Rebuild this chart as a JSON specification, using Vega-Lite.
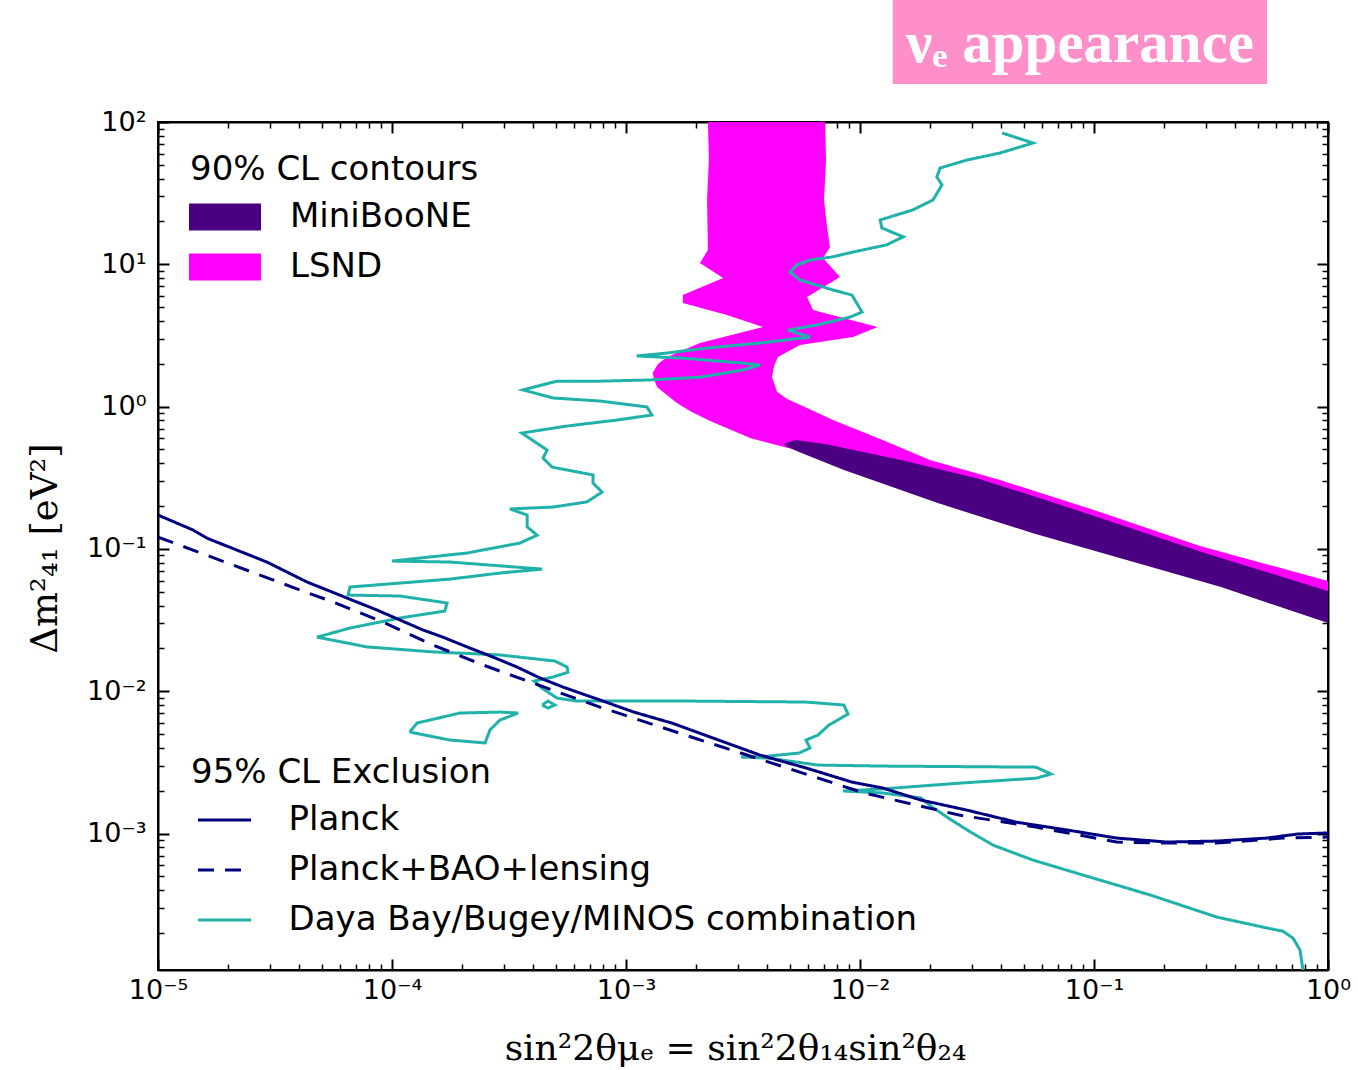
{
  "$schema": "https://vega.github.io/schema/vega-lite/v6.json",
  "width": 1170,
  "height": 848,
  "autosize": {"type": "none"},
  "padding": {"left": 158, "top": 122, "right": 30, "bottom": 100},
  "background": "white",
  "config": {
    "view": {"stroke": "black", "strokeWidth": 2},
    "font": "DejaVu Sans",
    "axis": {"grid": false, "tickColor": "black", "domainColor": "black", "domainWidth": 2, "labelColor": "black", "labelFont": "DejaVu Sans", "labelFontSize": 27, "labelFlush": false, "labelOverlap": false, "zindex": 1},
    "legend": {"titleFont": "DejaVu Sans", "titleFontSize": 34, "titleFontWeight": "normal", "titleColor": "black", "titleLimit": 1000, "labelFont": "DejaVu Sans", "labelFontSize": 34, "labelColor": "black", "labelLimit": 1000, "padding": 0, "rowPadding": 16, "titlePadding": 13}
  },
  "datasets": {
    "frame": [{"s2t": 0.01, "dm2": 1}],
    "regions": [
      {"contour": "LSND", "i": 1, "s2t": 0.00224, "dm2": 100},
      {"contour": "LSND", "i": 2, "s2t": 0.00709, "dm2": 100},
      {"contour": "LSND", "i": 3, "s2t": 0.00716, "dm2": 54.1},
      {"contour": "LSND", "i": 4, "s2t": 0.00702, "dm2": 28.3},
      {"contour": "LSND", "i": 5, "s2t": 0.00723, "dm2": 18.3},
      {"contour": "LSND", "i": 6, "s2t": 0.00744, "dm2": 13.2},
      {"contour": "LSND", "i": 7, "s2t": 0.00695, "dm2": 11.07},
      {"contour": "LSND", "i": 8, "s2t": 0.00821, "dm2": 8.14},
      {"contour": "LSND", "i": 9, "s2t": 0.00594, "dm2": 5.89},
      {"contour": "LSND", "i": 10, "s2t": 0.0063, "dm2": 4.77},
      {"contour": "LSND", "i": 11, "s2t": 0.0119, "dm2": 3.63},
      {"contour": "LSND", "i": 12, "s2t": 0.00934, "dm2": 3.08},
      {"contour": "LSND", "i": 13, "s2t": 0.00554, "dm2": 2.71},
      {"contour": "LSND", "i": 14, "s2t": 0.00446, "dm2": 2.23},
      {"contour": "LSND", "i": 14.5, "s2t": 0.00429, "dm2": 1.93},
      {"contour": "LSND", "i": 15, "s2t": 0.00421, "dm2": 1.61},
      {"contour": "LSND", "i": 16, "s2t": 0.00442, "dm2": 1.27},
      {"contour": "LSND", "i": 16.5, "s2t": 0.00488, "dm2": 1.13},
      {"contour": "LSND", "i": 17, "s2t": 0.00554, "dm2": 1.03},
      {"contour": "LSND", "i": 18, "s2t": 0.00767, "dm2": 0.805},
      {"contour": "LSND", "i": 19, "s2t": 0.0125, "dm2": 0.583},
      {"contour": "LSND", "i": 20, "s2t": 0.0199, "dm2": 0.421},
      {"contour": "LSND", "i": 21, "s2t": 0.0397, "dm2": 0.305},
      {"contour": "LSND", "i": 22, "s2t": 0.106, "dm2": 0.182},
      {"contour": "LSND", "i": 23, "s2t": 0.284, "dm2": 0.105},
      {"contour": "LSND", "i": 24, "s2t": 1, "dm2": 0.0595},
      {"contour": "LSND", "i": 25, "s2t": 1, "dm2": 0.0322},
      {"contour": "LSND", "i": 26, "s2t": 0.284, "dm2": 0.0625},
      {"contour": "LSND", "i": 27, "s2t": 0.106, "dm2": 0.0998},
      {"contour": "LSND", "i": 28, "s2t": 0.0397, "dm2": 0.162},
      {"contour": "LSND", "i": 29, "s2t": 0.0148, "dm2": 0.272},
      {"contour": "LSND", "i": 30, "s2t": 0.00854, "dm2": 0.376},
      {"contour": "LSND", "i": 31, "s2t": 0.00554, "dm2": 0.488},
      {"contour": "LSND", "i": 32, "s2t": 0.00339, "dm2": 0.601},
      {"contour": "LSND", "i": 33, "s2t": 0.00229, "dm2": 0.792},
      {"contour": "LSND", "i": 33.5, "s2t": 0.00191, "dm2": 0.916},
      {"contour": "LSND", "i": 34, "s2t": 0.00165, "dm2": 1.06},
      {"contour": "LSND", "i": 35, "s2t": 0.00136, "dm2": 1.37},
      {"contour": "LSND", "i": 35.5, "s2t": 0.00132, "dm2": 1.54},
      {"contour": "LSND", "i": 36, "s2t": 0.0013, "dm2": 1.72},
      {"contour": "LSND", "i": 36.5, "s2t": 0.00137, "dm2": 1.99},
      {"contour": "LSND", "i": 37, "s2t": 0.0015, "dm2": 2.23},
      {"contour": "LSND", "i": 38, "s2t": 0.00207, "dm2": 2.8},
      {"contour": "LSND", "i": 39, "s2t": 0.00385, "dm2": 3.63},
      {"contour": "LSND", "i": 40, "s2t": 0.0027, "dm2": 4.4},
      {"contour": "LSND", "i": 41, "s2t": 0.00175, "dm2": 5.35},
      {"contour": "LSND", "i": 42, "s2t": 0.00175, "dm2": 6.08},
      {"contour": "LSND", "i": 43, "s2t": 0.0026, "dm2": 8.01},
      {"contour": "LSND", "i": 44, "s2t": 0.00207, "dm2": 10.2},
      {"contour": "LSND", "i": 45, "s2t": 0.00224, "dm2": 12.6},
      {"contour": "LSND", "i": 46, "s2t": 0.00222, "dm2": 28.3},
      {"contour": "LSND", "i": 47, "s2t": 0.00226, "dm2": 54.1},
      {"contour": "MiniBooNE", "i": 1, "s2t": 0.00473, "dm2": 0.546},
      {"contour": "MiniBooNE", "i": 2, "s2t": 0.00528, "dm2": 0.583},
      {"contour": "MiniBooNE", "i": 3, "s2t": 0.00709, "dm2": 0.546},
      {"contour": "MiniBooNE", "i": 4, "s2t": 0.015, "dm2": 0.421},
      {"contour": "MiniBooNE", "i": 5, "s2t": 0.0313, "dm2": 0.315},
      {"contour": "MiniBooNE", "i": 6, "s2t": 0.0661, "dm2": 0.214},
      {"contour": "MiniBooNE", "i": 7, "s2t": 0.138, "dm2": 0.143},
      {"contour": "MiniBooNE", "i": 8, "s2t": 0.289, "dm2": 0.0951},
      {"contour": "MiniBooNE", "i": 9, "s2t": 1, "dm2": 0.0506},
      {"contour": "MiniBooNE", "i": 10, "s2t": 1, "dm2": 0.0302},
      {"contour": "MiniBooNE", "i": 11, "s2t": 0.349, "dm2": 0.054},
      {"contour": "MiniBooNE", "i": 12, "s2t": 0.138, "dm2": 0.0836},
      {"contour": "MiniBooNE", "i": 13, "s2t": 0.0549, "dm2": 0.129},
      {"contour": "MiniBooNE", "i": 14, "s2t": 0.0215, "dm2": 0.21},
      {"contour": "MiniBooNE", "i": 15, "s2t": 0.00854, "dm2": 0.359},
      {"contour": "MiniBooNE", "i": 16, "s2t": 0.00549, "dm2": 0.48},
      {"contour": "MiniBooNE", "i": 17, "s2t": 0.00492, "dm2": 0.52}
    ],
    "curves": [
      {"series": "Daya Bay/Bugey/MINOS combination", "part": "a", "i": 1, "s2t": 0.0405, "dm2": 83.7},
      {"series": "Daya Bay/Bugey/MINOS combination", "part": "a", "i": 2, "s2t": 0.0549, "dm2": 71.2},
      {"series": "Daya Bay/Bugey/MINOS combination", "part": "a", "i": 3, "s2t": 0.0397, "dm2": 60.6},
      {"series": "Daya Bay/Bugey/MINOS combination", "part": "a", "i": 4, "s2t": 0.0287, "dm2": 54.1},
      {"series": "Daya Bay/Bugey/MINOS combination", "part": "a", "i": 5, "s2t": 0.022, "dm2": 47.5},
      {"series": "Daya Bay/Bugey/MINOS combination", "part": "a", "i": 6, "s2t": 0.0213, "dm2": 41.1},
      {"series": "Daya Bay/Bugey/MINOS combination", "part": "a", "i": 7, "s2t": 0.0224, "dm2": 36.1},
      {"series": "Daya Bay/Bugey/MINOS combination", "part": "a", "i": 8, "s2t": 0.0205, "dm2": 28.3},
      {"series": "Daya Bay/Bugey/MINOS combination", "part": "a", "i": 9, "s2t": 0.0168, "dm2": 24.1},
      {"series": "Daya Bay/Bugey/MINOS combination", "part": "a", "i": 10, "s2t": 0.0122, "dm2": 20.5},
      {"series": "Daya Bay/Bugey/MINOS combination", "part": "a", "i": 11, "s2t": 0.0124, "dm2": 18.0},
      {"series": "Daya Bay/Bugey/MINOS combination", "part": "a", "i": 12, "s2t": 0.0153, "dm2": 15.6},
      {"series": "Daya Bay/Bugey/MINOS combination", "part": "a", "i": 13, "s2t": 0.013, "dm2": 13.7},
      {"series": "Daya Bay/Bugey/MINOS combination", "part": "a", "i": 14, "s2t": 0.00934, "dm2": 12.2},
      {"series": "Daya Bay/Bugey/MINOS combination", "part": "a", "i": 15, "s2t": 0.00767, "dm2": 11.3},
      {"series": "Daya Bay/Bugey/MINOS combination", "part": "a", "i": 16, "s2t": 0.00611, "dm2": 10.7},
      {"series": "Daya Bay/Bugey/MINOS combination", "part": "a", "i": 17, "s2t": 0.00538, "dm2": 9.89},
      {"series": "Daya Bay/Bugey/MINOS combination", "part": "a", "i": 18, "s2t": 0.00502, "dm2": 8.83},
      {"series": "Daya Bay/Bugey/MINOS combination", "part": "a", "i": 19, "s2t": 0.00554, "dm2": 7.76},
      {"series": "Daya Bay/Bugey/MINOS combination", "part": "a", "i": 20, "s2t": 0.00767, "dm2": 6.6},
      {"series": "Daya Bay/Bugey/MINOS combination", "part": "a", "i": 21, "s2t": 0.00924, "dm2": 6.08},
      {"series": "Daya Bay/Bugey/MINOS combination", "part": "a", "i": 22, "s2t": 0.0102, "dm2": 4.62},
      {"series": "Daya Bay/Bugey/MINOS combination", "part": "a", "i": 23, "s2t": 0.00907, "dm2": 4.26},
      {"series": "Daya Bay/Bugey/MINOS combination", "part": "a", "i": 24, "s2t": 0.00655, "dm2": 3.75},
      {"series": "Daya Bay/Bugey/MINOS combination", "part": "a", "i": 25, "s2t": 0.00492, "dm2": 3.45},
      {"series": "Daya Bay/Bugey/MINOS combination", "part": "a", "i": 26, "s2t": 0.00611, "dm2": 3.08},
      {"series": "Daya Bay/Bugey/MINOS combination", "part": "a", "i": 27, "s2t": 0.00374, "dm2": 2.8},
      {"series": "Daya Bay/Bugey/MINOS combination", "part": "a", "i": 28, "s2t": 0.00222, "dm2": 2.58},
      {"series": "Daya Bay/Bugey/MINOS combination", "part": "a", "i": 29, "s2t": 0.0015, "dm2": 2.38},
      {"series": "Daya Bay/Bugey/MINOS combination", "part": "a", "i": 30, "s2t": 0.00111, "dm2": 2.27},
      {"series": "Daya Bay/Bugey/MINOS combination", "part": "a", "i": 31, "s2t": 0.00175, "dm2": 2.19},
      {"series": "Daya Bay/Bugey/MINOS combination", "part": "a", "i": 32, "s2t": 0.00307, "dm2": 2.03},
      {"series": "Daya Bay/Bugey/MINOS combination", "part": "a", "i": 33, "s2t": 0.00374, "dm2": 1.96},
      {"series": "Daya Bay/Bugey/MINOS combination", "part": "a", "i": 34, "s2t": 0.00316, "dm2": 1.81},
      {"series": "Daya Bay/Bugey/MINOS combination", "part": "a", "i": 35, "s2t": 0.00207, "dm2": 1.61},
      {"series": "Daya Bay/Bugey/MINOS combination", "part": "a", "i": 36, "s2t": 0.00127, "dm2": 1.54},
      {"series": "Daya Bay/Bugey/MINOS combination", "part": "a", "i": 37, "s2t": 0.000774, "dm2": 1.51},
      {"series": "Daya Bay/Bugey/MINOS combination", "part": "a", "i": 38, "s2t": 0.000507, "dm2": 1.51},
      {"series": "Daya Bay/Bugey/MINOS combination", "part": "a", "i": 39, "s2t": 0.000363, "dm2": 1.31},
      {"series": "Daya Bay/Bugey/MINOS combination", "part": "a", "i": 40, "s2t": 0.000488, "dm2": 1.15},
      {"series": "Daya Bay/Bugey/MINOS combination", "part": "a", "i": 41, "s2t": 0.000774, "dm2": 1.095},
      {"series": "Daya Bay/Bugey/MINOS combination", "part": "a", "i": 42, "s2t": 0.00123, "dm2": 0.994},
      {"series": "Daya Bay/Bugey/MINOS combination", "part": "a", "i": 43, "s2t": 0.00129, "dm2": 0.873},
      {"series": "Daya Bay/Bugey/MINOS combination", "part": "a", "i": 44, "s2t": 0.000915, "dm2": 0.805},
      {"series": "Daya Bay/Bugey/MINOS combination", "part": "a", "i": 45, "s2t": 0.00056, "dm2": 0.731},
      {"series": "Daya Bay/Bugey/MINOS combination", "part": "a", "i": 46, "s2t": 0.000359, "dm2": 0.652},
      {"series": "Daya Bay/Bugey/MINOS combination", "part": "a", "i": 47, "s2t": 0.00046, "dm2": 0.495},
      {"series": "Daya Bay/Bugey/MINOS combination", "part": "a", "i": 48, "s2t": 0.000442, "dm2": 0.435},
      {"series": "Daya Bay/Bugey/MINOS combination", "part": "a", "i": 49, "s2t": 0.000483, "dm2": 0.376},
      {"series": "Daya Bay/Bugey/MINOS combination", "part": "a", "i": 50, "s2t": 0.000723, "dm2": 0.331},
      {"series": "Daya Bay/Bugey/MINOS combination", "part": "a", "i": 51, "s2t": 0.000723, "dm2": 0.29},
      {"series": "Daya Bay/Bugey/MINOS combination", "part": "a", "i": 52, "s2t": 0.00079, "dm2": 0.251},
      {"series": "Daya Bay/Bugey/MINOS combination", "part": "a", "i": 53, "s2t": 0.000681, "dm2": 0.214},
      {"series": "Daya Bay/Bugey/MINOS combination", "part": "a", "i": 54, "s2t": 0.000488, "dm2": 0.197},
      {"series": "Daya Bay/Bugey/MINOS combination", "part": "a", "i": 55, "s2t": 0.000319, "dm2": 0.191},
      {"series": "Daya Bay/Bugey/MINOS combination", "part": "a", "i": 56, "s2t": 0.000378, "dm2": 0.173},
      {"series": "Daya Bay/Bugey/MINOS combination", "part": "a", "i": 57, "s2t": 0.000378, "dm2": 0.143},
      {"series": "Daya Bay/Bugey/MINOS combination", "part": "a", "i": 58, "s2t": 0.000417, "dm2": 0.125},
      {"series": "Daya Bay/Bugey/MINOS combination", "part": "a", "i": 59, "s2t": 0.000352, "dm2": 0.11},
      {"series": "Daya Bay/Bugey/MINOS combination", "part": "a", "i": 60, "s2t": 0.000209, "dm2": 0.0936},
      {"series": "Daya Bay/Bugey/MINOS combination", "part": "a", "i": 61, "s2t": 0.0001, "dm2": 0.0822},
      {"series": "Daya Bay/Bugey/MINOS combination", "part": "a", "i": 62, "s2t": 0.000177, "dm2": 0.0809},
      {"series": "Daya Bay/Bugey/MINOS combination", "part": "a", "i": 63, "s2t": 0.000438, "dm2": 0.0722},
      {"series": "Daya Bay/Bugey/MINOS combination", "part": "a", "i": 64, "s2t": 0.000289, "dm2": 0.0677},
      {"series": "Daya Bay/Bugey/MINOS combination", "part": "a", "i": 65, "s2t": 0.000177, "dm2": 0.0614},
      {"series": "Daya Bay/Bugey/MINOS combination", "part": "a", "i": 66, "s2t": 0.0000661, "dm2": 0.054},
      {"series": "Daya Bay/Bugey/MINOS combination", "part": "a", "i": 67, "s2t": 0.0000649, "dm2": 0.0474},
      {"series": "Daya Bay/Bugey/MINOS combination", "part": "a", "i": 68, "s2t": 0.000108, "dm2": 0.0467},
      {"series": "Daya Bay/Bugey/MINOS combination", "part": "a", "i": 69, "s2t": 0.000172, "dm2": 0.0417},
      {"series": "Daya Bay/Bugey/MINOS combination", "part": "a", "i": 70, "s2t": 0.000168, "dm2": 0.0366},
      {"series": "Daya Bay/Bugey/MINOS combination", "part": "a", "i": 71, "s2t": 0.000108, "dm2": 0.0327},
      {"series": "Daya Bay/Bugey/MINOS combination", "part": "a", "i": 72, "s2t": 0.0000661, "dm2": 0.0278},
      {"series": "Daya Bay/Bugey/MINOS combination", "part": "a", "i": 73, "s2t": 0.0000478, "dm2": 0.024},
      {"series": "Daya Bay/Bugey/MINOS combination", "part": "a", "i": 74, "s2t": 0.0000782, "dm2": 0.0205},
      {"series": "Daya Bay/Bugey/MINOS combination", "part": "a", "i": 75, "s2t": 0.00015, "dm2": 0.0189},
      {"series": "Daya Bay/Bugey/MINOS combination", "part": "a", "i": 76, "s2t": 0.000289, "dm2": 0.018},
      {"series": "Daya Bay/Bugey/MINOS combination", "part": "a", "i": 77, "s2t": 0.000497, "dm2": 0.0163},
      {"series": "Daya Bay/Bugey/MINOS combination", "part": "a", "i": 78, "s2t": 0.00056, "dm2": 0.0148},
      {"series": "Daya Bay/Bugey/MINOS combination", "part": "a", "i": 79, "s2t": 0.000565, "dm2": 0.0136},
      {"series": "Daya Bay/Bugey/MINOS combination", "part": "a", "i": 80, "s2t": 0.000488, "dm2": 0.0126},
      {"series": "Daya Bay/Bugey/MINOS combination", "part": "a", "i": 81, "s2t": 0.000405, "dm2": 0.0118},
      {"series": "Daya Bay/Bugey/MINOS combination", "part": "a", "i": 82, "s2t": 0.000438, "dm2": 0.0105},
      {"series": "Daya Bay/Bugey/MINOS combination", "part": "a", "i": 83, "s2t": 0.000507, "dm2": 0.00896},
      {"series": "Daya Bay/Bugey/MINOS combination", "part": "a", "i": 84, "s2t": 0.000617, "dm2": 0.00853},
      {"series": "Daya Bay/Bugey/MINOS combination", "part": "a", "i": 85, "s2t": 0.0019, "dm2": 0.00853},
      {"series": "Daya Bay/Bugey/MINOS combination", "part": "a", "i": 86, "s2t": 0.00588, "dm2": 0.0084},
      {"series": "Daya Bay/Bugey/MINOS combination", "part": "a", "i": 87, "s2t": 0.00854, "dm2": 0.008},
      {"series": "Daya Bay/Bugey/MINOS combination", "part": "a", "i": 88, "s2t": 0.00889, "dm2": 0.00691},
      {"series": "Daya Bay/Bugey/MINOS combination", "part": "a", "i": 89, "s2t": 0.00737, "dm2": 0.00579},
      {"series": "Daya Bay/Bugey/MINOS combination", "part": "a", "i": 90, "s2t": 0.00661, "dm2": 0.00492},
      {"series": "Daya Bay/Bugey/MINOS combination", "part": "a", "i": 91, "s2t": 0.00588, "dm2": 0.00454},
      {"series": "Daya Bay/Bugey/MINOS combination", "part": "a", "i": 92, "s2t": 0.00611, "dm2": 0.00399},
      {"series": "Daya Bay/Bugey/MINOS combination", "part": "a", "i": 93, "s2t": 0.00549, "dm2": 0.00368},
      {"series": "Daya Bay/Bugey/MINOS combination", "part": "a", "i": 94, "s2t": 0.00405, "dm2": 0.0035},
      {"series": "Daya Bay/Bugey/MINOS combination", "part": "a", "i": 95, "s2t": 0.0031, "dm2": 0.00345},
      {"series": "Daya Bay/Bugey/MINOS combination", "part": "a", "i": 96, "s2t": 0.00405, "dm2": 0.00339},
      {"series": "Daya Bay/Bugey/MINOS combination", "part": "a", "i": 97, "s2t": 0.00661, "dm2": 0.00303},
      {"series": "Daya Bay/Bugey/MINOS combination", "part": "a", "i": 98, "s2t": 0.0125, "dm2": 0.00298},
      {"series": "Daya Bay/Bugey/MINOS combination", "part": "a", "i": 99, "s2t": 0.0565, "dm2": 0.00293},
      {"series": "Daya Bay/Bugey/MINOS combination", "part": "a", "i": 100, "s2t": 0.0655, "dm2": 0.00262},
      {"series": "Daya Bay/Bugey/MINOS combination", "part": "a", "i": 101, "s2t": 0.0565, "dm2": 0.00245},
      {"series": "Daya Bay/Bugey/MINOS combination", "part": "a", "i": 102, "s2t": 0.0265, "dm2": 0.00226},
      {"series": "Daya Bay/Bugey/MINOS combination", "part": "a", "i": 103, "s2t": 0.0125, "dm2": 0.00206},
      {"series": "Daya Bay/Bugey/MINOS combination", "part": "a", "i": 104, "s2t": 0.00846, "dm2": 0.00199},
      {"series": "Daya Bay/Bugey/MINOS combination", "part": "a", "i": 105, "s2t": 0.0125, "dm2": 0.00193},
      {"series": "Daya Bay/Bugey/MINOS combination", "part": "a", "i": 106, "s2t": 0.0182, "dm2": 0.00178},
      {"series": "Daya Bay/Bugey/MINOS combination", "part": "a", "i": 107, "s2t": 0.0203, "dm2": 0.00154},
      {"series": "Daya Bay/Bugey/MINOS combination", "part": "a", "i": 108, "s2t": 0.0238, "dm2": 0.00129},
      {"series": "Daya Bay/Bugey/MINOS combination", "part": "a", "i": 109, "s2t": 0.0287, "dm2": 0.00106},
      {"series": "Daya Bay/Bugey/MINOS combination", "part": "a", "i": 110, "s2t": 0.037, "dm2": 0.00083},
      {"series": "Daya Bay/Bugey/MINOS combination", "part": "a", "i": 111, "s2t": 0.0549, "dm2": 0.000651},
      {"series": "Daya Bay/Bugey/MINOS combination", "part": "a", "i": 112, "s2t": 0.0898, "dm2": 0.000511},
      {"series": "Daya Bay/Bugey/MINOS combination", "part": "a", "i": 113, "s2t": 0.174, "dm2": 0.00037},
      {"series": "Daya Bay/Bugey/MINOS combination", "part": "a", "i": 114, "s2t": 0.335, "dm2": 0.000259},
      {"series": "Daya Bay/Bugey/MINOS combination", "part": "a", "i": 115, "s2t": 0.549, "dm2": 0.000217},
      {"series": "Daya Bay/Bugey/MINOS combination", "part": "a", "i": 116, "s2t": 0.642, "dm2": 0.000206},
      {"series": "Daya Bay/Bugey/MINOS combination", "part": "a", "i": 117, "s2t": 0.709, "dm2": 0.000184},
      {"series": "Daya Bay/Bugey/MINOS combination", "part": "a", "i": 118, "s2t": 0.759, "dm2": 0.000152},
      {"series": "Daya Bay/Bugey/MINOS combination", "part": "a", "i": 119, "s2t": 0.782, "dm2": 0.00011},
      {"series": "Daya Bay/Bugey/MINOS combination", "part": "b", "i": 1, "s2t": 0.000119, "dm2": 0.00517},
      {"series": "Daya Bay/Bugey/MINOS combination", "part": "b", "i": 2, "s2t": 0.000128, "dm2": 0.00598},
      {"series": "Daya Bay/Bugey/MINOS combination", "part": "b", "i": 3, "s2t": 0.000195, "dm2": 0.00703},
      {"series": "Daya Bay/Bugey/MINOS combination", "part": "b", "i": 4, "s2t": 0.000289, "dm2": 0.00714},
      {"series": "Daya Bay/Bugey/MINOS combination", "part": "b", "i": 5, "s2t": 0.000346, "dm2": 0.00703},
      {"series": "Daya Bay/Bugey/MINOS combination", "part": "b", "i": 6, "s2t": 0.000289, "dm2": 0.00627},
      {"series": "Daya Bay/Bugey/MINOS combination", "part": "b", "i": 7, "s2t": 0.000262, "dm2": 0.00534},
      {"series": "Daya Bay/Bugey/MINOS combination", "part": "b", "i": 8, "s2t": 0.00025, "dm2": 0.00433},
      {"series": "Daya Bay/Bugey/MINOS combination", "part": "b", "i": 9, "s2t": 0.000177, "dm2": 0.00454},
      {"series": "Daya Bay/Bugey/MINOS combination", "part": "b", "i": 10, "s2t": 0.000119, "dm2": 0.00517},
      {"series": "Daya Bay/Bugey/MINOS combination", "part": "c", "i": 1, "s2t": 0.000438, "dm2": 0.008},
      {"series": "Daya Bay/Bugey/MINOS combination", "part": "c", "i": 2, "s2t": 0.000464, "dm2": 0.00853},
      {"series": "Daya Bay/Bugey/MINOS combination", "part": "c", "i": 3, "s2t": 0.000497, "dm2": 0.008},
      {"series": "Daya Bay/Bugey/MINOS combination", "part": "c", "i": 4, "s2t": 0.000464, "dm2": 0.00762},
      {"series": "Daya Bay/Bugey/MINOS combination", "part": "c", "i": 5, "s2t": 0.000438, "dm2": 0.008},
      {"series": "Planck", "part": "p", "i": 1, "s2t": 0.00001, "dm2": 0.173},
      {"series": "Planck", "part": "p", "i": 2, "s2t": 0.0000141, "dm2": 0.136},
      {"series": "Planck", "part": "p", "i": 3, "s2t": 0.0000162, "dm2": 0.119},
      {"series": "Planck", "part": "p", "i": 4, "s2t": 0.0000292, "dm2": 0.0809},
      {"series": "Planck", "part": "p", "i": 5, "s2t": 0.0000433, "dm2": 0.0586},
      {"series": "Planck", "part": "p", "i": 6, "s2t": 0.0000642, "dm2": 0.0452},
      {"series": "Planck", "part": "p", "i": 7, "s2t": 0.0000863, "dm2": 0.0372},
      {"series": "Planck", "part": "p", "i": 8, "s2t": 0.000108, "dm2": 0.0317},
      {"series": "Planck", "part": "p", "i": 9, "s2t": 0.000136, "dm2": 0.0269},
      {"series": "Planck", "part": "p", "i": 10, "s2t": 0.000165, "dm2": 0.024},
      {"series": "Planck", "part": "p", "i": 11, "s2t": 0.000209, "dm2": 0.0205},
      {"series": "Planck", "part": "p", "i": 12, "s2t": 0.00027, "dm2": 0.0174},
      {"series": "Planck", "part": "p", "i": 13, "s2t": 0.000342, "dm2": 0.0148},
      {"series": "Planck", "part": "p", "i": 14, "s2t": 0.000429, "dm2": 0.0124},
      {"series": "Planck", "part": "p", "i": 15, "s2t": 0.000538, "dm2": 0.0107},
      {"series": "Planck", "part": "p", "i": 16, "s2t": 0.000774, "dm2": 0.00868},
      {"series": "Planck", "part": "p", "i": 17, "s2t": 0.00108, "dm2": 0.00714},
      {"series": "Planck", "part": "p", "i": 18, "s2t": 0.00157, "dm2": 0.00598},
      {"series": "Planck", "part": "p", "i": 19, "s2t": 0.00229, "dm2": 0.00477},
      {"series": "Planck", "part": "p", "i": 20, "s2t": 0.00374, "dm2": 0.00356},
      {"series": "Planck", "part": "p", "i": 21, "s2t": 0.00588, "dm2": 0.00289},
      {"series": "Planck", "part": "p", "i": 22, "s2t": 0.00924, "dm2": 0.0023},
      {"series": "Planck", "part": "p", "i": 23, "s2t": 0.0125, "dm2": 0.00209},
      {"series": "Planck", "part": "p", "i": 24, "s2t": 0.0182, "dm2": 0.00172},
      {"series": "Planck", "part": "p", "i": 25, "s2t": 0.0287, "dm2": 0.00146},
      {"series": "Planck", "part": "p", "i": 26, "s2t": 0.0469, "dm2": 0.0012},
      {"series": "Planck", "part": "p", "i": 27, "s2t": 0.0767, "dm2": 0.00106},
      {"series": "Planck", "part": "p", "i": 28, "s2t": 0.125, "dm2": 0.00093},
      {"series": "Planck", "part": "p", "i": 29, "s2t": 0.205, "dm2": 0.000872},
      {"series": "Planck", "part": "p", "i": 30, "s2t": 0.335, "dm2": 0.000886},
      {"series": "Planck", "part": "p", "i": 31, "s2t": 0.549, "dm2": 0.00093},
      {"series": "Planck", "part": "p", "i": 32, "s2t": 0.737, "dm2": 0.000992},
      {"series": "Planck", "part": "p", "i": 33, "s2t": 1, "dm2": 0.00101},
      {"series": "Planck+BAO+lensing", "part": "p", "i": 1, "s2t": 0.00001, "dm2": 0.121},
      {"series": "Planck+BAO+lensing", "part": "p", "i": 2, "s2t": 0.0000141, "dm2": 0.0982},
      {"series": "Planck+BAO+lensing", "part": "p", "i": 3, "s2t": 0.0000209, "dm2": 0.0771},
      {"series": "Planck+BAO+lensing", "part": "p", "i": 4, "s2t": 0.0000405, "dm2": 0.0514},
      {"series": "Planck+BAO+lensing", "part": "p", "i": 5, "s2t": 0.000056, "dm2": 0.0424},
      {"series": "Planck+BAO+lensing", "part": "p", "i": 6, "s2t": 0.0000915, "dm2": 0.0306},
      {"series": "Planck+BAO+lensing", "part": "p", "i": 7, "s2t": 0.00015, "dm2": 0.0211},
      {"series": "Planck+BAO+lensing", "part": "p", "i": 8, "s2t": 0.000245, "dm2": 0.0153},
      {"series": "Planck+BAO+lensing", "part": "p", "i": 9, "s2t": 0.000401, "dm2": 0.0114},
      {"series": "Planck+BAO+lensing", "part": "p", "i": 10, "s2t": 0.000774, "dm2": 0.00774},
      {"series": "Planck+BAO+lensing", "part": "p", "i": 11, "s2t": 0.0019, "dm2": 0.00477},
      {"series": "Planck+BAO+lensing", "part": "p", "i": 12, "s2t": 0.00488, "dm2": 0.00289},
      {"series": "Planck+BAO+lensing", "part": "p", "i": 13, "s2t": 0.0104, "dm2": 0.00193},
      {"series": "Planck+BAO+lensing", "part": "p", "i": 14, "s2t": 0.0265, "dm2": 0.00135},
      {"series": "Planck+BAO+lensing", "part": "p", "i": 15, "s2t": 0.0565, "dm2": 0.00111},
      {"series": "Planck+BAO+lensing", "part": "p", "i": 16, "s2t": 0.125, "dm2": 0.000872},
      {"series": "Planck+BAO+lensing", "part": "p", "i": 17, "s2t": 0.205, "dm2": 0.000858},
      {"series": "Planck+BAO+lensing", "part": "p", "i": 18, "s2t": 0.335, "dm2": 0.000858},
      {"series": "Planck+BAO+lensing", "part": "p", "i": 19, "s2t": 0.642, "dm2": 0.00093},
      {"series": "Planck+BAO+lensing", "part": "p", "i": 20, "s2t": 1, "dm2": 0.000945}
    ]
  },
  "resolve": {"axis": {"x": "independent", "y": "independent"}},
  "layer": [
    {
      "data": {"name": "frame"},
      "mark": {"type": "point", "opacity": 0},
      "encoding": {
        "x": {"field": "s2t", "type": "quantitative", "scale": {"type": "log", "domain": [0.00001, 1], "nice": false},
          "axis": {"orient": "bottom", "values": [0.00001, 0.0001, 0.001, 0.01, 0.1, 1], "tickSize": -11, "tickWidth": 2, "labelPadding": 18, "domain": true,
            "labelExpr": "datum.value < 3e-5 ? '10⁻⁵' : datum.value < 3e-4 ? '10⁻⁴' : datum.value < 3e-3 ? '10⁻³' : datum.value < 3e-2 ? '10⁻²' : datum.value < 0.3 ? '10⁻¹' : '10⁰'",
            "title": "sin²2θμₑ = sin²2θ₁₄sin²θ₂₄", "titleFont": "DejaVu Serif", "titleFontSize": 36, "titleFontWeight": "normal", "titleColor": "black", "titleX": 577, "titleY": 78, "titleAlign": "center", "titleBaseline": "middle", "titleAngle": 0}},
        "y": {"field": "dm2", "type": "quantitative", "scale": {"type": "log", "domain": [0.00011, 100], "nice": false},
          "axis": {"orient": "left", "values": [0.001, 0.01, 0.1, 1, 10, 100], "tickSize": -11, "tickWidth": 2, "labelPadding": 23, "domain": true,
            "labelExpr": "datum.value < 3e-3 ? '10⁻³' : datum.value < 3e-2 ? '10⁻²' : datum.value < 0.3 ? '10⁻¹' : datum.value < 3 ? '10⁰' : datum.value < 30 ? '10¹' : '10²'",
            "title": "Δm²₄₁ [eV²]", "titleFont": "DejaVu Serif", "titleFontSize": 37, "titleFontWeight": "normal", "titleColor": "black", "titleX": -113, "titleY": 426, "titleAlign": "center", "titleBaseline": "middle", "titleAngle": 270}}
      }
    },
    {
      "data": {"name": "frame"},
      "mark": {"type": "point", "opacity": 0},
      "encoding": {
        "x": {"field": "s2t", "type": "quantitative", "scale": {"type": "log", "domain": [0.00001, 1], "nice": false},
          "axis": {"orient": "bottom", "values": [0.00002, 0.00003, 0.00004, 0.00005, 0.00006, 0.00007, 0.00008, 0.00009, 0.0002, 0.0003, 0.0004, 0.0005, 0.0006, 0.0007, 0.0008, 0.0009, 0.002, 0.003, 0.004, 0.005, 0.006, 0.007, 0.008, 0.009, 0.02, 0.03, 0.04, 0.05, 0.06, 0.07, 0.08, 0.09, 0.2, 0.3, 0.4, 0.5, 0.6, 0.7, 0.8, 0.9], "tickSize": -6, "tickWidth": 1.5, "labels": false, "domain": false, "title": null}},
        "y": {"field": "dm2", "type": "quantitative", "scale": {"type": "log", "domain": [0.00011, 100], "nice": false},
          "axis": {"orient": "left", "values": [0.0002, 0.0003, 0.0004, 0.0005, 0.0006, 0.0007, 0.0008, 0.0009, 0.002, 0.003, 0.004, 0.005, 0.006, 0.007, 0.008, 0.009, 0.02, 0.03, 0.04, 0.05, 0.06, 0.07, 0.08, 0.09, 0.2, 0.3, 0.4, 0.5, 0.6, 0.7, 0.8, 0.9, 2, 3, 4, 5, 6, 7, 8, 9, 20, 30, 40, 50, 60, 70, 80, 90], "tickSize": -6, "tickWidth": 1.5, "labels": false, "domain": false, "title": null}}
      }
    },
    {
      "data": {"name": "frame"},
      "mark": {"type": "point", "opacity": 0},
      "encoding": {
        "x": {"field": "s2t", "type": "quantitative", "scale": {"type": "log", "domain": [0.00001, 1], "nice": false},
          "axis": {"orient": "top", "values": [0.00001, 0.0001, 0.001, 0.01, 0.1, 1], "tickSize": -11, "tickWidth": 2, "labels": false, "domain": true, "title": null}},
        "y": {"field": "dm2", "type": "quantitative", "scale": {"type": "log", "domain": [0.00011, 100], "nice": false},
          "axis": {"orient": "right", "values": [0.001, 0.01, 0.1, 1, 10, 100], "tickSize": -11, "tickWidth": 2, "labels": false, "domain": true, "title": null}}
      }
    },
    {
      "data": {"name": "frame"},
      "mark": {"type": "point", "opacity": 0},
      "encoding": {
        "x": {"field": "s2t", "type": "quantitative", "scale": {"type": "log", "domain": [0.00001, 1], "nice": false},
          "axis": {"orient": "top", "values": [0.00002, 0.00003, 0.00004, 0.00005, 0.00006, 0.00007, 0.00008, 0.00009, 0.0002, 0.0003, 0.0004, 0.0005, 0.0006, 0.0007, 0.0008, 0.0009, 0.002, 0.003, 0.004, 0.005, 0.006, 0.007, 0.008, 0.009, 0.02, 0.03, 0.04, 0.05, 0.06, 0.07, 0.08, 0.09, 0.2, 0.3, 0.4, 0.5, 0.6, 0.7, 0.8, 0.9], "tickSize": -6, "tickWidth": 1.5, "labels": false, "domain": false, "title": null}},
        "y": {"field": "dm2", "type": "quantitative", "scale": {"type": "log", "domain": [0.00011, 100], "nice": false},
          "axis": {"orient": "right", "values": [0.0002, 0.0003, 0.0004, 0.0005, 0.0006, 0.0007, 0.0008, 0.0009, 0.002, 0.003, 0.004, 0.005, 0.006, 0.007, 0.008, 0.009, 0.02, 0.03, 0.04, 0.05, 0.06, 0.07, 0.08, 0.09, 0.2, 0.3, 0.4, 0.5, 0.6, 0.7, 0.8, 0.9, 2, 3, 4, 5, 6, 7, 8, 9, 20, 30, 40, 50, 60, 70, 80, 90], "tickSize": -6, "tickWidth": 1.5, "labels": false, "domain": false, "title": null}}
      }
    },
    {
      "data": {"name": "regions"},
      "mark": {"type": "line", "strokeWidth": 0, "clip": true},
      "encoding": {
        "x": {"field": "s2t", "type": "quantitative", "scale": {"type": "log", "domain": [0.00001, 1], "nice": false}, "axis": null},
        "y": {"field": "dm2", "type": "quantitative", "scale": {"type": "log", "domain": [0.00011, 100], "nice": false}, "axis": null},
        "fill": {"field": "contour", "type": "nominal",
          "scale": {"domain": ["MiniBooNE", "LSND"], "range": ["#4b0082", "#ff00ff"]},
          "sort": ["LSND", "MiniBooNE"],
          "legend": {"title": "90% CL contours", "orient": "none", "legendX": 32, "legendY": 31, "symbolType": "M-2.667,-1L2.667,-1L2.667,1L-2.667,1Z", "symbolSize": 729, "symbolOffset": 18, "labelOffset": 48, "symbolStrokeWidth": 0, "symbolOpacity": 1}},
        "order": {"field": "i", "type": "quantitative"}
      }
    },
    {
      "data": {"name": "curves"},
      "mark": {"type": "line", "strokeWidth": 3, "clip": true},
      "encoding": {
        "x": {"field": "s2t", "type": "quantitative", "scale": {"type": "log", "domain": [0.00001, 1], "nice": false}, "axis": null},
        "y": {"field": "dm2", "type": "quantitative", "scale": {"type": "log", "domain": [0.00011, 100], "nice": false}, "axis": null},
        "stroke": {"field": "series", "type": "nominal",
          "scale": {"domain": ["Planck", "Planck+BAO+lensing", "Daya Bay/Bugey/MINOS combination"], "range": ["#000080", "#000080", "#20b2aa"]},
          "legend": {"title": "95% CL Exclusion", "orient": "none", "legendX": 33, "legendY": 634, "symbolType": "M-2,0L2,0", "symbolSize": 702, "symbolStrokeWidth": 3, "symbolOffset": 16.5, "labelOffset": 47}},
        "strokeDash": {"field": "series", "type": "nominal",
          "scale": {"domain": ["Planck", "Planck+BAO+lensing", "Daya Bay/Bugey/MINOS combination"], "range": [[1, 0], [16, 11], [1, 0]]},
          "legend": {"title": "95% CL Exclusion", "orient": "none", "legendX": 33, "legendY": 634, "symbolType": "M-2,0L2,0", "symbolSize": 702, "symbolStrokeWidth": 3, "symbolOffset": 16.5, "labelOffset": 47}},
        "detail": {"field": "part"},
        "order": {"field": "i", "type": "quantitative"}
      }
    },
    {
      "data": {"values": [{"s2t": 0.0138, "s2t_end": 0.549, "dm2": 720, "dm2_end": 185}]},
      "mark": {"type": "rect", "color": "#ff8fc8"},
      "encoding": {
        "x": {"field": "s2t", "type": "quantitative", "scale": {"type": "log", "domain": [0.00001, 1], "nice": false}, "axis": null},
        "x2": {"field": "s2t_end"},
        "y": {"field": "dm2", "type": "quantitative", "scale": {"type": "log", "domain": [0.00011, 100], "nice": false}, "axis": null},
        "y2": {"field": "dm2_end"}
      }
    },
    {
      "data": {"values": [{"s2t": 0.0871, "dm2": 264, "label": "νₑ appearance"}]},
      "mark": {"type": "text", "font": "Liberation Serif", "fontWeight": "bold", "fontSize": 59, "color": "white", "align": "center", "baseline": "alphabetic"},
      "encoding": {
        "x": {"field": "s2t", "type": "quantitative", "scale": {"type": "log", "domain": [0.00001, 1], "nice": false}, "axis": null},
        "y": {"field": "dm2", "type": "quantitative", "scale": {"type": "log", "domain": [0.00011, 100], "nice": false}, "axis": null},
        "text": {"field": "label"}
      }
    }
  ]
}
